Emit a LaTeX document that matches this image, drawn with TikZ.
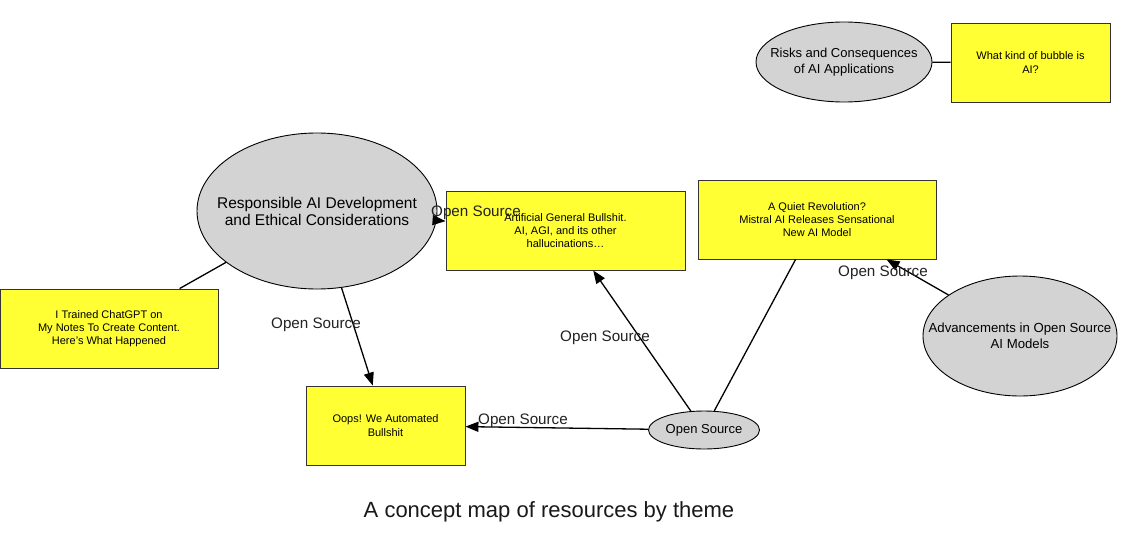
\documentclass[tikz,border=0pt]{standalone}
\usepackage{fontspec}
\setmainfont{Liberation Sans}
\usetikzlibrary{arrows.meta,shapes.geometric}
\definecolor{boxyellow}{HTML}{FFFF33}
\definecolor{ellgray}{HTML}{D3D3D3}
\definecolor{labelgray}{HTML}{222222}
\tikzset{
  theme/.style={ellipse,draw=black,fill=ellgray,line width=0.9pt,inner sep=0pt},
  themetext/.style={align=center,inner sep=0pt,font=\fontsize{15.5}{17}\selectfont},
  res/.style={rectangle,draw=black!80,fill=boxyellow,line width=0.9pt,inner sep=0pt,align=center,minimum width=159,minimum height=79,font=\fontsize{11}{13.2}\selectfont},
  conn/.style={line width=1.3pt,draw=black},
  arr/.style={conn,-{Triangle[length=13pt,width=10pt]}},
  elabel/.style={text=labelgray,inner sep=0pt,font=\fontsize{15.2}{17}\selectfont},
}
\begin{document}
\begin{tikzpicture}[x=1pt,y=-1pt]
\useasboundingbox[fill=white] (0,0) rectangle (1140,546);
% theme ellipses
\node[theme,minimum width=240,minimum height=156,
  label={[themetext]center:Responsible AI Development\\and Ethical Considerations}] (resp) at (317,211) {};
\node[theme,minimum width=194,minimum height=120,
  label={[themetext,font=\fontsize{13.2}{16.5}\selectfont]center:Advancements in Open Source\\AI Models}] (adv) at (1020,336) {};
\node[theme,minimum width=176,minimum height=80,
  label={[themetext,font=\fontsize{13}{16}\selectfont]center:Risks and Consequences\\of AI Applications}] (risk) at (844,62) {};
\node[theme,minimum width=111,minimum height=38,
  label={[themetext,font=\fontsize{13}{15}\selectfont]center:Open Source}] (os) at (704,430) {};
% resource boxes
\node[res,minimum width=239] (agb) at (565.5,230.5) {Artificial General Bullshit.\\AI, AGI, and its other\\hallucinations\dots};
\node[res,minimum width=238] (quiet) at (817,219.5) {A Quiet Revolution?\\Mistral AI Releases Sensational\\New AI Model};
\node[res] (bubble) at (1030.5,62.5) {What kind of bubble is\\AI?};
\node[res,minimum width=218] (chat) at (109,328.5) {I Trained ChatGPT on\\My Notes To Create Content.\\Here’s What Happened};
\node[res] (oops) at (385.5,425.5) {Oops! We Automated\\Bullshit};
% connectors
\draw[conn] (resp) -- (chat);
\draw[arr] (resp) -- (agb);
\draw[arr] (resp) -- (oops);
\draw[arr] (os) -- (agb);
\draw[conn] (os) -- (quiet);
\draw[arr] (os) -- (oops);
\draw[arr] (adv) -- (quiet);
\draw[conn] (risk) -- (bubble);
% connector labels
\node[elabel] (l1) at (476,213) {Open Source};
\node[elabel] (l2) at (316,325) {Open Source};
\node[elabel] (l3) at (605,338) {Open Source};
\node[elabel] (l4) at (523,421) {Open Source};
\node[elabel] (l5) at (883,273) {Open Source};
% caption
\node[font=\fontsize{22}{26}\selectfont,text=black!90] (cap) at (549,512) {A concept map of resources by theme};
\end{tikzpicture}
\end{document}
